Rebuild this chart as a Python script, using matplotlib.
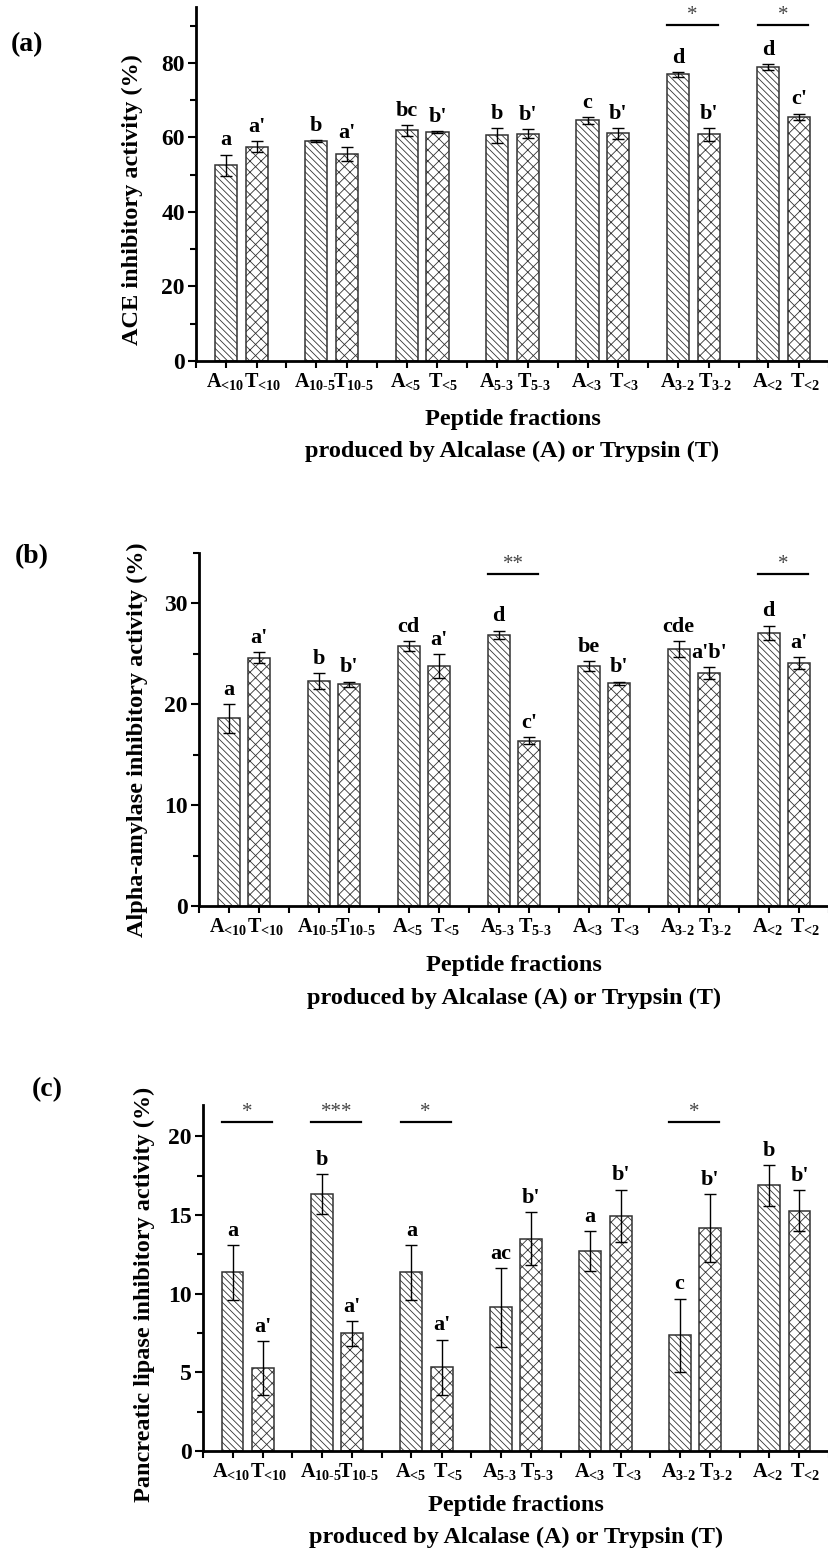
import matplotlib
matplotlib.use("Agg")
import matplotlib.pyplot as plt
import matplotlib.transforms as mtransforms
import numpy as np

plt.rcParams["font.family"] = ["Liberation Serif", "DejaVu Serif"]
plt.rcParams["font.weight"] = "bold"
plt.rcParams["hatch.linewidth"] = 0.6
plt.rcParams["mathtext.fontset"] = "custom"
plt.rcParams["mathtext.rm"] = "Liberation Serif:bold"
plt.rcParams["mathtext.bf"] = "Liberation Serif:bold"
plt.rcParams["mathtext.default"] = "regular"

subs = ["<10", "10-5", "<5", "5-3", "<3", "3-2", "<2"]

# panel (a) ACE
ace_a = [52.5, 59.1, 61.9, 60.6, 64.6, 76.9, 78.8]
ace_a_err = [2.9, 0.2, 1.5, 2.0, 0.9, 0.7, 0.8]
ace_t = [57.5, 55.5, 61.4, 61.0, 61.1, 60.8, 65.6]
ace_t_err = [1.5, 1.8, 0.3, 1.2, 1.5, 1.8, 0.8]
ace_let_a = ["a", "b", "bc", "b", "c", "d", "d"]
ace_let_t = ["a'", "a'", "b'", "b'", "b'", "b'", "c'"]
ace_sig = {5: "*", 6: "*"}

# panel (b) alpha-amylase
amy_a = [18.6, 22.3, 25.8, 26.9, 23.8, 25.5, 27.1]
amy_a_err = [1.4, 0.8, 0.5, 0.4, 0.5, 0.8, 0.7]
amy_t = [24.6, 22.0, 23.8, 16.4, 22.1, 23.1, 24.1]
amy_t_err = [0.55, 0.25, 1.2, 0.35, 0.15, 0.6, 0.6]
amy_let_a = ["a", "b", "cd", "d", "be", "cde", "d"]
amy_let_t = ["a'", "b'", "a'", "c'", "b'", "a'b'", "a'"]
amy_sig = {3: "**", 6: "*"}

# panel (c) pancreatic lipase
lip_a = [11.35, 16.36, 11.35, 9.13, 12.72, 7.36, 16.89]
lip_a_err = [1.72, 1.26, 1.72, 2.5, 1.25, 2.33, 1.29]
lip_t = [5.26, 7.48, 5.33, 13.5, 14.96, 14.18, 15.28]
lip_t_err = [1.71, 0.8, 1.75, 1.7, 1.66, 2.15, 1.32]
lip_let_a = ["a", "b", "a", "ac", "a", "c", "b"]
lip_let_t = ["a'", "a'", "a'", "b'", "b'", "b'", "b'"]
lip_sig = {0: "*", 1: "***", 2: "*", 5: "*"}

W, H = 829, 1553
fig = plt.figure(figsize=(W / 100, H / 100), dpi=100)

panels = [
    dict(name="(a)", box=(196, 7, 361), ylim=95, major=20, minor=10, sig_y=90.2,
         ylabel="ACE inhibitory activity (%)", lab_xy=(27, 45), yl=(143, 200), xl=(59, 90),
         a=ace_a, ae=ace_a_err, t=ace_t, te=ace_t_err, la=ace_let_a, lt=ace_let_t, sig=ace_sig),
    dict(name="(b)", box=(199, 553, 906), ylim=35, major=10, minor=5, sig_y=32.9,
         ylabel="Alpha-amylase inhibitory activity (%)", lab_xy=(32, 557), yl=(148, 740), xl=(60, 92),
         a=amy_a, ae=amy_a_err, t=amy_t, te=amy_t_err, la=amy_let_a, lt=amy_let_t, sig=amy_sig),
    dict(name="(c)", box=(203, 1105, 1451), ylim=22, major=5, minor=2.5, sig_y=20.9,
         ylabel="Pancreatic lipase inhibitory activity (%)", lab_xy=(47, 1090), yl=(155, 1294), xl=(54, 86),
         a=lip_a, ae=lip_a_err, t=lip_t, te=lip_t_err, la=lip_let_a, lt=lip_let_t, sig=lip_sig),
]

x = np.arange(7)
bw = 0.245
for p in panels:
    left, top, bottom = p["box"]
    ax = fig.add_axes([left / W, 1 - bottom / H, (W - left) / W, (bottom - top) / H])
    xa = x + 0.33
    xt = x + 0.67
    ax.bar(xa, p["a"], bw, facecolor="white", edgecolor="#333333", linewidth=1.1,
           hatch="\\\\\\\\\\")
    ax.bar(xt, p["t"], bw, facecolor="white", edgecolor="#333333", linewidth=1.1,
           hatch="xxx")
    ax.errorbar(xa, p["a"], yerr=p["ae"], fmt="none", ecolor="black", elinewidth=1, capsize=4, capthick=1)
    ax.errorbar(xt, p["t"], yerr=p["te"], fmt="none", ecolor="black", elinewidth=1, capsize=4, capthick=1)
    for i in range(7):
        ax.annotate(p["la"][i], (xa[i], p["a"][i] + p["ae"][i]), xytext=(0, 3),
                    textcoords="offset points", ha="center", va="bottom", fontsize=16, fontweight="bold")
        ax.annotate(p["lt"][i], (xt[i], p["t"][i] + p["te"][i]), xytext=(0, 3),
                    textcoords="offset points", ha="center", va="bottom", fontsize=16, fontweight="bold")
    for i, s in p["sig"].items():
        ax.plot([i + 0.21, i + 0.77], [p["sig_y"]] * 2, color="black", lw=1.6, clip_on=False)
        ax.text(i + 0.49, p["sig_y"], s, ha="center", va="bottom", fontsize=15,
                fontweight="normal", color="#444444")

    ax.set_xlim(0, 7)
    ax.set_ylim(0, p["ylim"])
    ax.set_yticks(np.arange(0, p["ylim"] + 0.01, p["major"]))
    ax.set_yticks(np.arange(0, p["ylim"] + 0.01, p["minor"]), minor=True)
    ax.set_yticklabels([f"{v:g}" for v in np.arange(0, p["ylim"] + 0.01, p["major"])])
    ticks = np.concatenate([xa, xt])
    labels = ([f"A$_{{\\text{{{s}}}}}$" for s in subs] +
              [f"T$_{{\\text{{{s}}}}}$" for s in subs])
    ax.set_xticks(ticks)
    ax.set_xticklabels(labels)
    ax.set_xticks(np.arange(0, 8), minor=True)
    ax.tick_params(axis="both", which="both", direction="out", width=1.5)
    ax.tick_params(axis="y", which="major", length=6, pad=2)
    ax.tick_params(axis="y", which="minor", length=4)
    ax.tick_params(axis="x", which="both", length=5, pad=2)
    for lab in ax.get_yticklabels():
        lab.set_fontweight("bold")
        lab.set_fontsize(17)
    # T labels sit a little to the right of their bar, as in the original
    shift_t = mtransforms.ScaledTranslation(6 / 100, 0, fig.dpi_scale_trans)
    shift_a = mtransforms.ScaledTranslation(-1 / 100, 0, fig.dpi_scale_trans)
    for k, lab in enumerate(ax.get_xticklabels()):
        lab.set_fontweight("bold")
        lab.set_fontsize(14.5)
        lab.set_transform(lab.get_transform() + (shift_t if k >= 7 else shift_a))
    for side in ["top", "right"]:
        ax.spines[side].set_visible(False)
    for side in ["left", "bottom"]:
        ax.spines[side].set_linewidth(2)
    ax.set_ylabel(p["ylabel"], fontsize=17.5, fontweight="bold")
    ylx, yly = p["yl"]
    ax.yaxis.set_label_coords((ylx - left) / (W - left), (bottom - yly) / (bottom - top))
    ax.annotate("Peptide fractions", (0.5, 0), xycoords="axes fraction",
                xytext=(0, -p["xl"][0] * 0.72), textcoords="offset points",
                ha="center", va="center", fontsize=17.5, fontweight="bold")
    ax.annotate("produced by Alcalase (A) or Trypsin (T)", (0.5, 0), xycoords="axes fraction",
                xytext=(0, -p["xl"][1] * 0.72), textcoords="offset points",
                ha="center", va="center", fontsize=17.5, fontweight="bold")
    fig.text(p["lab_xy"][0] / W, 1 - p["lab_xy"][1] / H, p["name"], ha="center", va="center",
             fontsize=20, fontweight="bold")

fig.savefig("out.png", dpi=100)
